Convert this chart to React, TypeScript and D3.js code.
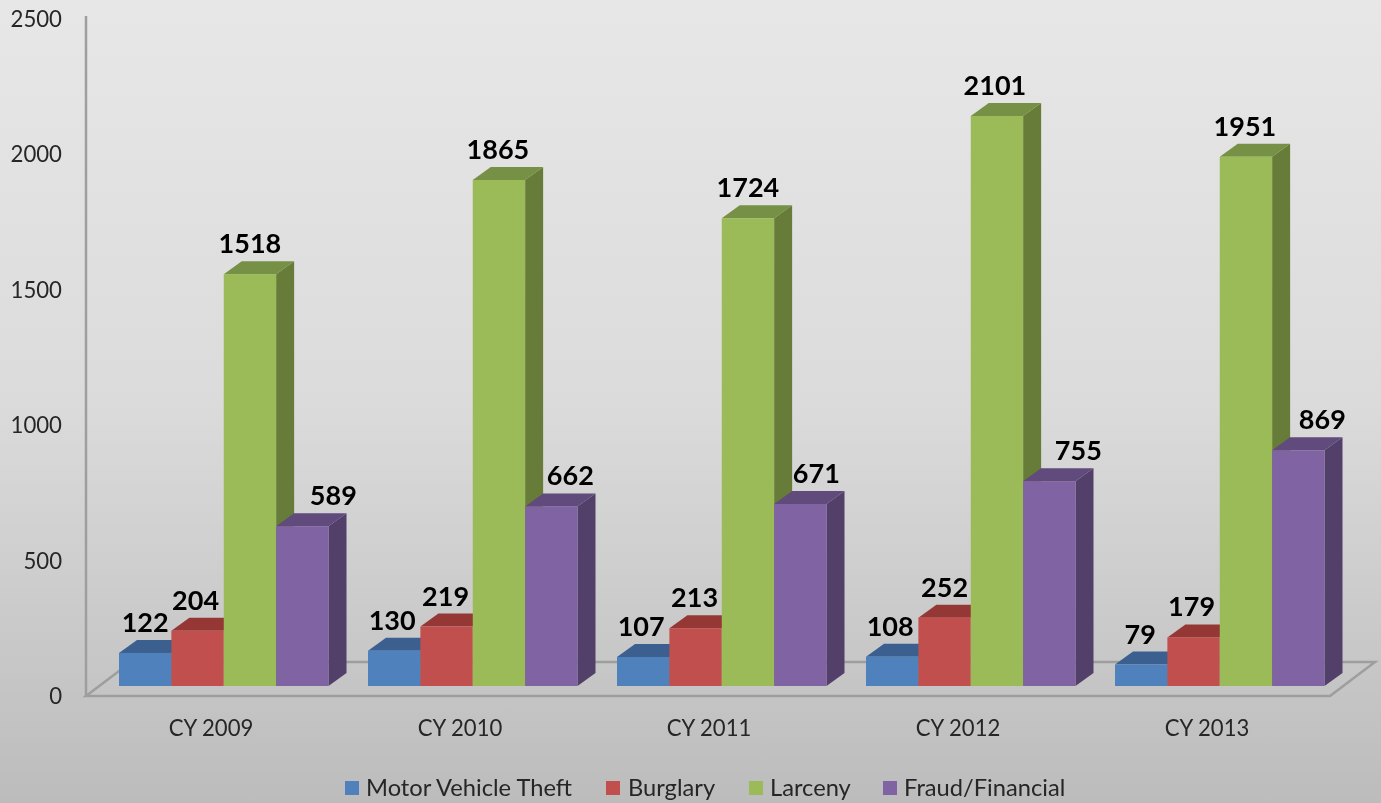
import React from "react";
import * as d3 from "d3";

const categories = ["CY 2009", "CY 2010", "CY 2011", "CY 2012", "CY 2013"];
const motorVehicleTheft = [122, 130, 107, 108, 79];
const burglary = [204, 219, 213, 252, 179];
const larceny = [1518, 1865, 1724, 2101, 1951];
const fraudFinancial = [589, 662, 671, 755, 869];
const yTicks = [0, 500, 1000, 1500, 2000, 2500];

const seriesList = [
  { name: "Motor Vehicle Theft", values: motorVehicleTheft, front: "#4f81bd", top: "#3b618f", side: "#3a5f8b", nudge: [0, -2, -2, -2, -1], legendBox: 345, legendText: 366 },
  { name: "Burglary", values: burglary, front: "#c0504d", top: "#953836", side: "#8f3a38", nudge: [-2, -1, -1, 0, -2], legendBox: 606, legendText: 628 },
  { name: "Larceny", values: larceny, front: "#9bbb59", top: "#769044", side: "#667b38", nudge: [0, -1, 0, -2, -1], legendBox: 749, legendText: 770 },
  { name: "Fraud/Financial", values: fraudFinancial, front: "#8064a2", top: "#604b7b", side: "#533f6b", nudge: [31, 19, 16, 29, 24], legendBox: 883, legendText: 904 },
];

const W = 1381, H = 803;
const FONT = "Lato, Carlito, 'Open Sans', sans-serif";
const baseY = 686, depthX = 18, depthY = -13;
const y = d3.scaleLinear().domain([0, 2500]).range([baseY, baseY - 678.3]);
const tickY = d3.scaleLinear().domain([0, 2500]).range([696.5, 19]);
const groupX = d3.scalePoint<string>().domain(categories).range([119, 1115]);
const barX = d3.scaleBand<string>().domain(seriesList.map((s) => s.name)).range([0, 209.5]);

const poly = (pts: [number, number][]) => d3.line()(pts) + "Z";

export default function App() {
  return (
    <svg width={W} height={H} style={{ position: "absolute", left: 0, top: 0, display: "block" }} fontFamily={FONT}>
      <defs>
        <linearGradient id="bg" x1="0" y1="0" x2="0" y2="1">
          <stop offset="0" stopColor="#e7e7e7" />
          <stop offset="0.5" stopColor="#dbdbdb" />
          <stop offset="1" stopColor="#bcbcbc" />
        </linearGradient>
        <filter id="soft" x="0" y="0" width="100%" height="100%" filterUnits="userSpaceOnUse" primitiveUnits="userSpaceOnUse">
          <feGaussianBlur stdDeviation="0.4" />
        </filter>
      </defs>
      <rect width={W} height={H} fill="url(#bg)" />

      <g filter="url(#soft)">
        {/* floor and wall axis */}
        <path d={poly([[86, 696], [1330, 696], [1375, 662], [131, 662]])} fill="none" stroke="#9e9e9e" strokeWidth={2.5} />
        <line x1={86} y1={16} x2={86} y2={697} stroke="#9e9e9e" strokeWidth={2.5} />

        {yTicks.map((t) => (
          <text key={t} x={62} y={tickY(t)} dy="0.35em" textAnchor="end" fontSize={22.2} fill="#262626">{t}</text>
        ))}

        {categories.map((c, i) => {
          const gx = groupX(c)!;
          return (
            <g key={c}>
              {seriesList.map((s) => {
                const x0 = gx + barX(s.name)!;
                const x1 = x0 + barX.bandwidth();
                const yt = y(s.values[i]);
                return (
                  <g key={s.name}>
                    <path d={poly([[x1, baseY], [x1 + depthX, baseY + depthY], [x1 + depthX, yt + depthY], [x1, yt]])} fill={s.side} />
                    <path d={poly([[x0, yt], [x0 + depthX, yt + depthY], [x1 + depthX, yt + depthY], [x1, yt]])} fill={s.top} />
                    <rect x={x0} y={yt} width={barX.bandwidth()} height={baseY - yt} fill={s.front} />
                  </g>
                );
              })}
              <text x={gx + 92} y={728} dy="0.35em" textAnchor="middle" fontSize={22.1} fill="#262626">{c}</text>
            </g>
          );
        })}

        {categories.map((c, i) =>
          seriesList.map((s) => (
            <text
              key={c + s.name}
              x={groupX(c)! + barX(s.name)! + barX.bandwidth() / 2 + s.nudge[i]}
              y={y(s.values[i]) + depthY - 8}
              textAnchor="middle"
              fontSize={27}
              fontWeight={700}
              fill="#000"
            >
              {s.values[i]}
            </text>
          ))
        )}

        {seriesList.map((s) => (
          <g key={s.name}>
            <rect x={s.legendBox} y={781} width={14} height={14} fill={s.front} />
            <text x={s.legendText} y={788} dy="0.35em" fontSize={23.7} fill="#262626">{s.name}</text>
          </g>
        ))}
      </g>
    </svg>
  );
}
